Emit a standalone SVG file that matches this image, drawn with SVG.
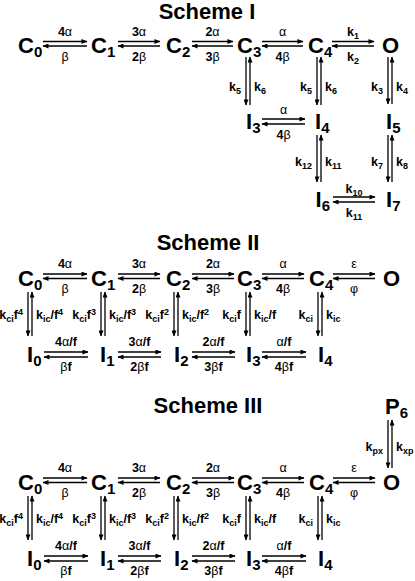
<svg xmlns="http://www.w3.org/2000/svg" width="415" height="581" viewBox="0 0 415 581">
<defs>
<marker id="ah" viewBox="0 0 6 5" refX="5.5" refY="2.5" markerWidth="6.5" markerHeight="5" markerUnits="userSpaceOnUse" orient="auto"><path d="M0,0L6,2.5L0,5z" fill="#000"/></marker>
<style>
.t{font:bold 22px "Liberation Sans",Arial,sans-serif;text-anchor:middle}
.n{font:bold 22px "Liberation Sans",Arial,sans-serif}
.s{font-size:15px}
.l{font:bold 12.5px "Liberation Sans",Arial,sans-serif}
.m{text-anchor:middle}
.e{text-anchor:end}
.g{font-weight:normal}
.ss{font-size:9px}
.c line{stroke:#000;stroke-width:1.3;marker-end:url(#ah)}
</style>
</defs>
<rect width="415" height="581" fill="#fff"/>

<text class="t" x="207" y="19">Scheme I</text>
<text class="t" x="208" y="250">Scheme II</text>
<text class="t" x="208" y="413">Scheme III</text>

<!-- Scheme I nodes -->
<g id="s1-C0"><text class="n" x="18" y="53">C<tspan class="s" dy="4">0</tspan></text></g>
<g id="s1-C1"><text class="n" x="91" y="53">C<tspan class="s" dy="4">1</tspan></text></g>
<g id="s1-C2"><text class="n" x="166" y="53">C<tspan class="s" dy="4">2</tspan></text></g>
<g id="s1-C3"><text class="n" x="237" y="53">C<tspan class="s" dy="4">3</tspan></text></g>
<g id="s1-C4"><text class="n" x="308" y="53">C<tspan class="s" dy="4">4</tspan></text></g>
<g id="s1-O"><text class="n" x="382" y="53">O</text></g>
<g id="s1-I3"><text class="n" x="246" y="129">I<tspan class="s" dy="4">3</tspan></text></g>
<g id="s1-I4"><text class="n" x="315" y="129">I<tspan class="s" dy="4">4</tspan></text></g>
<g id="s1-I5"><text class="n" x="386" y="129">I<tspan class="s" dy="4">5</tspan></text></g>
<g id="s1-I6"><text class="n" x="315.5" y="207">I<tspan class="s" dy="4">6</tspan></text></g>
<g id="s1-I7"><text class="n" x="386" y="207">I<tspan class="s" dy="4">7</tspan></text></g>

<!-- Scheme II nodes -->
<g id="s2-C0"><text class="n" x="18" y="286">C<tspan class="s" dy="4">0</tspan></text></g>
<g id="s2-C1"><text class="n" x="91" y="286">C<tspan class="s" dy="4">1</tspan></text></g>
<g id="s2-C2"><text class="n" x="166" y="286">C<tspan class="s" dy="4">2</tspan></text></g>
<g id="s2-C3"><text class="n" x="237" y="286">C<tspan class="s" dy="4">3</tspan></text></g>
<g id="s2-C4"><text class="n" x="309" y="286">C<tspan class="s" dy="4">4</tspan></text></g>
<g id="s2-O"><text class="n" x="383" y="286">O</text></g>
<g id="s2-I0"><text class="n" x="27" y="362">I<tspan class="s" dy="4">0</tspan></text></g>
<g id="s2-I1"><text class="n" x="100" y="362">I<tspan class="s" dy="4">1</tspan></text></g>
<g id="s2-I2"><text class="n" x="174" y="362">I<tspan class="s" dy="4">2</tspan></text></g>
<g id="s2-I3"><text class="n" x="246" y="362">I<tspan class="s" dy="4">3</tspan></text></g>
<g id="s2-I4"><text class="n" x="318" y="362">I<tspan class="s" dy="4">4</tspan></text></g>

<!-- Scheme III nodes -->
<g id="s3-P6"><text class="n" x="385" y="414">P<tspan class="s" dy="4">6</tspan></text></g>
<g id="s3-C0"><text class="n" x="18" y="490">C<tspan class="s" dy="4">0</tspan></text></g>
<g id="s3-C1"><text class="n" x="91" y="490">C<tspan class="s" dy="4">1</tspan></text></g>
<g id="s3-C2"><text class="n" x="166" y="490">C<tspan class="s" dy="4">2</tspan></text></g>
<g id="s3-C3"><text class="n" x="237" y="490">C<tspan class="s" dy="4">3</tspan></text></g>
<g id="s3-C4"><text class="n" x="309" y="490">C<tspan class="s" dy="4">4</tspan></text></g>
<g id="s3-O"><text class="n" x="383" y="490">O</text></g>
<g id="s3-I0"><text class="n" x="27" y="566">I<tspan class="s" dy="4">0</tspan></text></g>
<g id="s3-I1"><text class="n" x="100" y="566">I<tspan class="s" dy="4">1</tspan></text></g>
<g id="s3-I2"><text class="n" x="174" y="566">I<tspan class="s" dy="4">2</tspan></text></g>
<g id="s3-I3"><text class="n" x="246" y="566">I<tspan class="s" dy="4">3</tspan></text></g>
<g id="s3-I4"><text class="n" x="318" y="566">I<tspan class="s" dy="4">4</tspan></text></g>

<g id="connectors" class="c">
<!-- Scheme I horizontal -->
<line x1="43" y1="41.5" x2="87" y2="41.5"/><line x1="87" y1="46" x2="43" y2="46"/>
<line x1="118" y1="41.5" x2="160" y2="41.5"/><line x1="160" y1="46" x2="118" y2="46"/>
<line x1="192" y1="41.5" x2="233" y2="41.5"/><line x1="233" y1="46" x2="192" y2="46"/>
<line x1="262" y1="41.5" x2="303" y2="41.5"/><line x1="303" y1="46" x2="262" y2="46"/>
<line x1="332" y1="41.5" x2="374" y2="41.5"/><line x1="374" y1="46" x2="332" y2="46"/>
<line x1="262" y1="119" x2="305" y2="119"/><line x1="305" y1="124" x2="262" y2="124"/>
<line x1="333" y1="197" x2="375" y2="197"/><line x1="375" y1="202" x2="333" y2="202"/>
<!-- Scheme I vertical -->
<line x1="246" y1="57" x2="246" y2="105"/><line x1="250" y1="105" x2="250" y2="57"/>
<line x1="317" y1="57" x2="317" y2="105"/><line x1="321" y1="105" x2="321" y2="57"/>
<line x1="388" y1="57" x2="388" y2="104"/><line x1="392" y1="104" x2="392" y2="57"/>
<line x1="317" y1="135" x2="317" y2="182"/><line x1="321" y1="182" x2="321" y2="135"/>
<line x1="388" y1="135" x2="388" y2="182"/><line x1="392" y1="182" x2="392" y2="135"/>

<!-- Scheme II horizontal C -->
<line x1="43" y1="274" x2="87" y2="274"/><line x1="87" y1="278.5" x2="43" y2="278.5"/>
<line x1="118" y1="274" x2="160" y2="274"/><line x1="160" y1="278.5" x2="118" y2="278.5"/>
<line x1="192" y1="274" x2="234" y2="274"/><line x1="234" y1="278.5" x2="192" y2="278.5"/>
<line x1="262" y1="274" x2="304" y2="274"/><line x1="304" y1="278.5" x2="262" y2="278.5"/>
<line x1="333" y1="274" x2="375" y2="274"/><line x1="375" y1="278.5" x2="333" y2="278.5"/>
<!-- Scheme II horizontal I -->
<line x1="44" y1="352" x2="88" y2="352"/><line x1="88" y1="357" x2="44" y2="357"/>
<line x1="118" y1="352" x2="161" y2="352"/><line x1="161" y1="357" x2="118" y2="357"/>
<line x1="192" y1="352" x2="235" y2="352"/><line x1="235" y1="357" x2="192" y2="357"/>
<line x1="262" y1="352" x2="306" y2="352"/><line x1="306" y1="357" x2="262" y2="357"/>
<!-- Scheme II vertical -->
<line x1="28" y1="292" x2="28" y2="336"/><line x1="32" y1="336" x2="32" y2="292"/>
<line x1="101" y1="292" x2="101" y2="336"/><line x1="105" y1="336" x2="105" y2="292"/>
<line x1="174" y1="292" x2="174" y2="336"/><line x1="178" y1="336" x2="178" y2="292"/>
<line x1="246" y1="292" x2="246" y2="336"/><line x1="250" y1="336" x2="250" y2="292"/>
<line x1="318" y1="292" x2="318" y2="336"/><line x1="322" y1="336" x2="322" y2="292"/>

<!-- Scheme III P6-O -->
<line x1="388" y1="420" x2="388" y2="468"/><line x1="392" y1="468" x2="392" y2="420"/>
<!-- Scheme III horizontal C -->
<line x1="43" y1="478" x2="87" y2="478"/><line x1="87" y1="482.5" x2="43" y2="482.5"/>
<line x1="118" y1="478" x2="160" y2="478"/><line x1="160" y1="482.5" x2="118" y2="482.5"/>
<line x1="192" y1="478" x2="234" y2="478"/><line x1="234" y1="482.5" x2="192" y2="482.5"/>
<line x1="262" y1="478" x2="304" y2="478"/><line x1="304" y1="482.5" x2="262" y2="482.5"/>
<line x1="333" y1="478" x2="375" y2="478"/><line x1="375" y1="482.5" x2="333" y2="482.5"/>
<!-- Scheme III horizontal I -->
<line x1="44" y1="556" x2="88" y2="556"/><line x1="88" y1="561" x2="44" y2="561"/>
<line x1="118" y1="556" x2="161" y2="556"/><line x1="161" y1="561" x2="118" y2="561"/>
<line x1="192" y1="556" x2="235" y2="556"/><line x1="235" y1="561" x2="192" y2="561"/>
<line x1="262" y1="556" x2="306" y2="556"/><line x1="306" y1="561" x2="262" y2="561"/>
<!-- Scheme III vertical -->
<line x1="28" y1="496" x2="28" y2="540"/><line x1="32" y1="540" x2="32" y2="496"/>
<line x1="101" y1="496" x2="101" y2="540"/><line x1="105" y1="540" x2="105" y2="496"/>
<line x1="174" y1="496" x2="174" y2="540"/><line x1="178" y1="540" x2="178" y2="496"/>
<line x1="246" y1="496" x2="246" y2="540"/><line x1="250" y1="540" x2="250" y2="496"/>
<line x1="318" y1="496" x2="318" y2="540"/><line x1="322" y1="540" x2="322" y2="496"/>
</g>

<g id="labels" class="l">
<!-- Scheme I -->
<text class="l m" x="65" y="36">4<tspan class="g">α</tspan></text>
<text class="l m" x="65" y="61"><tspan class="g">β</tspan></text>
<text class="l m" x="139" y="36">3<tspan class="g">α</tspan></text>
<text class="l m" x="139" y="61">2<tspan class="g">β</tspan></text>
<text class="l m" x="212.5" y="36">2<tspan class="g">α</tspan></text>
<text class="l m" x="212.5" y="61">3<tspan class="g">β</tspan></text>
<text class="l m" x="282.5" y="36"><tspan class="g">α</tspan></text>
<text class="l m" x="282.5" y="61">4<tspan class="g">β</tspan></text>
<text class="l m" x="353" y="36">k<tspan class="ss" dy="2.5">1</tspan></text>
<text class="l m" x="353" y="61">k<tspan class="ss" dy="2.5">2</tspan></text>
<text class="l m" x="283.5" y="114"><tspan class="g">α</tspan></text>
<text class="l m" x="283.5" y="139">4<tspan class="g">β</tspan></text>
<text class="l m" x="354" y="193">k<tspan class="ss" dy="2.5">10</tspan></text>
<text class="l m" x="354" y="217">k<tspan class="ss" dy="2.5">11</tspan></text>
<text class="l e" x="241" y="91">k<tspan class="ss" dy="2.5">5</tspan></text>
<text class="l" x="254" y="91">k<tspan class="ss" dy="2.5">6</tspan></text>
<text class="l e" x="312" y="91">k<tspan class="ss" dy="2.5">5</tspan></text>
<text class="l" x="325" y="91">k<tspan class="ss" dy="2.5">6</tspan></text>
<text class="l e" x="383" y="91">k<tspan class="ss" dy="2.5">3</tspan></text>
<text class="l" x="396" y="91">k<tspan class="ss" dy="2.5">4</tspan></text>
<text class="l e" x="312" y="166">k<tspan class="ss" dy="2.5">12</tspan></text>
<text class="l" x="325" y="166">k<tspan class="ss" dy="2.5">11</tspan></text>
<text class="l e" x="383" y="166">k<tspan class="ss" dy="2.5">7</tspan></text>
<text class="l" x="396" y="166">k<tspan class="ss" dy="2.5">8</tspan></text>

<!-- Scheme II -->
<text class="l m" x="65" y="268">4<tspan class="g">α</tspan></text>
<text class="l m" x="65" y="293"><tspan class="g">β</tspan></text>
<text class="l m" x="139" y="268">3<tspan class="g">α</tspan></text>
<text class="l m" x="139" y="293">2<tspan class="g">β</tspan></text>
<text class="l m" x="213" y="268">2<tspan class="g">α</tspan></text>
<text class="l m" x="213" y="293">3<tspan class="g">β</tspan></text>
<text class="l m" x="283" y="268"><tspan class="g">α</tspan></text>
<text class="l m" x="283" y="293">4<tspan class="g">β</tspan></text>
<text class="l m" x="354" y="268"><tspan class="g">ε</tspan></text>
<text class="l m" x="354" y="293"><tspan class="g">φ</tspan></text>
<text class="l m" x="66" y="346">4<tspan class="g">α</tspan>/f</text>
<text class="l m" x="66" y="371"><tspan class="g">β</tspan>f</text>
<text class="l m" x="139.5" y="346">3<tspan class="g">α</tspan>/f</text>
<text class="l m" x="139.5" y="371">2<tspan class="g">β</tspan>f</text>
<text class="l m" x="213.5" y="346">2<tspan class="g">α</tspan>/f</text>
<text class="l m" x="213.5" y="371">3<tspan class="g">β</tspan>f</text>
<text class="l m" x="284" y="346"><tspan class="g">α</tspan>/f</text>
<text class="l m" x="284" y="371">4<tspan class="g">β</tspan>f</text>
<text class="l e" x="23" y="319">k<tspan class="ss" dy="2.5">ci</tspan><tspan dy="-2.5">f</tspan><tspan class="ss" dy="-4">4</tspan></text>
<text class="l" x="36" y="319">k<tspan class="ss" dy="2.5">ic</tspan><tspan dy="-2.5">/f</tspan><tspan class="ss" dy="-4">4</tspan></text>
<text class="l e" x="96" y="319">k<tspan class="ss" dy="2.5">ci</tspan><tspan dy="-2.5">f</tspan><tspan class="ss" dy="-4">3</tspan></text>
<text class="l" x="109" y="319">k<tspan class="ss" dy="2.5">ic</tspan><tspan dy="-2.5">/f</tspan><tspan class="ss" dy="-4">3</tspan></text>
<text class="l e" x="169" y="319">k<tspan class="ss" dy="2.5">ci</tspan><tspan dy="-2.5">f</tspan><tspan class="ss" dy="-4">2</tspan></text>
<text class="l" x="182" y="319">k<tspan class="ss" dy="2.5">ic</tspan><tspan dy="-2.5">/f</tspan><tspan class="ss" dy="-4">2</tspan></text>
<text class="l e" x="241" y="319">k<tspan class="ss" dy="2.5">ci</tspan><tspan dy="-2.5">f</tspan></text>
<text class="l" x="254" y="319">k<tspan class="ss" dy="2.5">ic</tspan><tspan dy="-2.5">/f</tspan></text>
<text class="l e" x="313" y="319">k<tspan class="ss" dy="2.5">ci</tspan></text>
<text class="l" x="326" y="319">k<tspan class="ss" dy="2.5">ic</tspan></text>

<!-- Scheme III -->
<text class="l e" x="383" y="451">k<tspan class="ss" dy="2.5">px</tspan></text>
<text class="l" x="396" y="451">k<tspan class="ss" dy="2.5">xp</tspan></text>
<text class="l m" x="65" y="472">4<tspan class="g">α</tspan></text>
<text class="l m" x="65" y="497"><tspan class="g">β</tspan></text>
<text class="l m" x="139" y="472">3<tspan class="g">α</tspan></text>
<text class="l m" x="139" y="497">2<tspan class="g">β</tspan></text>
<text class="l m" x="213" y="472">2<tspan class="g">α</tspan></text>
<text class="l m" x="213" y="497">3<tspan class="g">β</tspan></text>
<text class="l m" x="283" y="472"><tspan class="g">α</tspan></text>
<text class="l m" x="283" y="497">4<tspan class="g">β</tspan></text>
<text class="l m" x="354" y="472"><tspan class="g">ε</tspan></text>
<text class="l m" x="354" y="497"><tspan class="g">φ</tspan></text>
<text class="l m" x="66" y="550">4<tspan class="g">α</tspan>/f</text>
<text class="l m" x="66" y="575"><tspan class="g">β</tspan>f</text>
<text class="l m" x="139.5" y="550">3<tspan class="g">α</tspan>/f</text>
<text class="l m" x="139.5" y="575">2<tspan class="g">β</tspan>f</text>
<text class="l m" x="213.5" y="550">2<tspan class="g">α</tspan>/f</text>
<text class="l m" x="213.5" y="575">3<tspan class="g">β</tspan>f</text>
<text class="l m" x="284" y="550"><tspan class="g">α</tspan>/f</text>
<text class="l m" x="284" y="575">4<tspan class="g">β</tspan>f</text>
<text class="l e" x="23" y="523">k<tspan class="ss" dy="2.5">ci</tspan><tspan dy="-2.5">f</tspan><tspan class="ss" dy="-4">4</tspan></text>
<text class="l" x="36" y="523">k<tspan class="ss" dy="2.5">ic</tspan><tspan dy="-2.5">/f</tspan><tspan class="ss" dy="-4">4</tspan></text>
<text class="l e" x="96" y="523">k<tspan class="ss" dy="2.5">ci</tspan><tspan dy="-2.5">f</tspan><tspan class="ss" dy="-4">3</tspan></text>
<text class="l" x="109" y="523">k<tspan class="ss" dy="2.5">ic</tspan><tspan dy="-2.5">/f</tspan><tspan class="ss" dy="-4">3</tspan></text>
<text class="l e" x="169" y="523">k<tspan class="ss" dy="2.5">ci</tspan><tspan dy="-2.5">f</tspan><tspan class="ss" dy="-4">2</tspan></text>
<text class="l" x="182" y="523">k<tspan class="ss" dy="2.5">ic</tspan><tspan dy="-2.5">/f</tspan><tspan class="ss" dy="-4">2</tspan></text>
<text class="l e" x="241" y="523">k<tspan class="ss" dy="2.5">ci</tspan><tspan dy="-2.5">f</tspan></text>
<text class="l" x="254" y="523">k<tspan class="ss" dy="2.5">ic</tspan><tspan dy="-2.5">/f</tspan></text>
<text class="l e" x="313" y="523">k<tspan class="ss" dy="2.5">ci</tspan></text>
<text class="l" x="326" y="523">k<tspan class="ss" dy="2.5">ic</tspan></text>
</g>
</svg>
